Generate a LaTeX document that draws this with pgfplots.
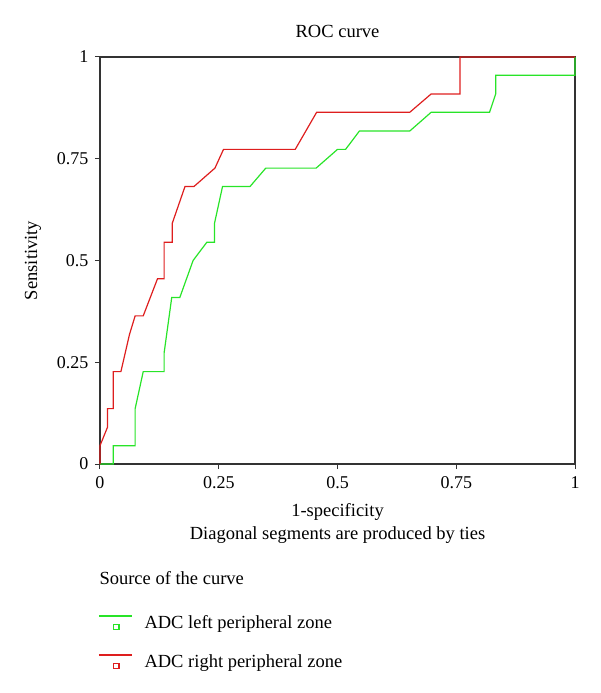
\documentclass[border=0pt]{standalone}
\usepackage{fontspec}
\setmainfont{Liberation Serif}
\usepackage{pgfplots}
\pgfplotsset{compat=1.18}
\definecolor{rocgreen}{RGB}{40,228,40}
\definecolor{rocred}{RGB}{222,30,30}
\begin{document}
\begin{tikzpicture}[x=1pt,y=1pt,font=\fontsize{18.5}{23}\selectfont]
\useasboundingbox (-100,-229) rectangle (500,464);
\begin{axis}[
    at={(0,0)}, anchor=south west,
    width=475pt, height=407pt, scale only axis,
    xmin=0, xmax=1, ymin=0, ymax=1,
    xtick={0,0.25,0.5,0.75,1},
    ytick={0,0.25,0.5,0.75,1},
    xticklabels={0,0.25,0.5,0.75,1},
    yticklabels={0,0.25,0.5,0.75,1},
    xtick pos=left, ytick pos=left,
    tick align=outside,
    major tick length=5pt,
    axis line style={black!80, line width=1.2pt},
    tick style={black!80, line width=1pt},
    tick label style={font=\fontsize{18}{22}\selectfont},
    xticklabel style={yshift=-4pt},
    yticklabel style={xshift=-3pt},
    /pgf/number format/assume math mode=true,
    title={ROC curve},
    title style={at={(axis description cs:0.5,1)}, anchor=center, yshift=20pt},
    xlabel={1-specificity\\Diagonal segments are produced by ties},
    xlabel style={at={(axis description cs:0.5,0)}, anchor=north, yshift=-36pt, align=center},
    ylabel={Sensitivity},
    ylabel style={at={(axis description cs:-0.141,0.5)}, anchor=center},
    clip=false,
]
% ADC left peripheral zone
\addplot[rocgreen, line width=1.2pt] coordinates {
 (0,0) (0.028,0) (0.028,0.045) (0.074,0.045) (0.074,0.136)
 (0.091,0.227) (0.135,0.227) (0.135,0.273) (0.151,0.409)
 (0.168,0.409) (0.196,0.5) (0.225,0.545) (0.241,0.545)
 (0.241,0.591) (0.258,0.682) (0.316,0.682) (0.349,0.727)
 (0.455,0.727) (0.5,0.773) (0.517,0.773) (0.546,0.818)
 (0.652,0.818) (0.697,0.864) (0.82,0.864) (0.833,0.909)
 (0.833,0.955) (1,0.955) (1,1)
};
% ADC right peripheral zone
\addplot[rocred, line width=1.2pt] coordinates {
 (0,0) (0,0.045) (0.016,0.091) (0.016,0.136) (0.028,0.136)
 (0.028,0.227) (0.044,0.227) (0.062,0.318) (0.074,0.364)
 (0.091,0.364) (0.121,0.455) (0.135,0.455) (0.135,0.545)
 (0.152,0.545) (0.152,0.591) (0.179,0.682) (0.198,0.682)
 (0.242,0.727) (0.260,0.773) (0.411,0.773) (0.456,0.864)
 (0.652,0.864) (0.697,0.909) (0.758,0.909) (0.758,1) (1,1)
};
\end{axis}
% legend
\node[anchor=west] at (-4,-114) {Source of the curve};
\draw[rocgreen, line width=1.3pt] (-1,-152) -- (32,-152);
\draw[rocgreen, line width=1pt, fill=white] (14,-165) rectangle (19,-160);
\node[anchor=base west] at (41,-164) {ADC left peripheral zone};
\draw[rocred, line width=1.3pt] (-1,-191) -- (32,-191);
\draw[rocred, line width=1pt, fill=white] (14,-204) rectangle (19,-199);
\node[anchor=base west] at (41,-203) {ADC right peripheral zone};
\end{tikzpicture}
\end{document}
